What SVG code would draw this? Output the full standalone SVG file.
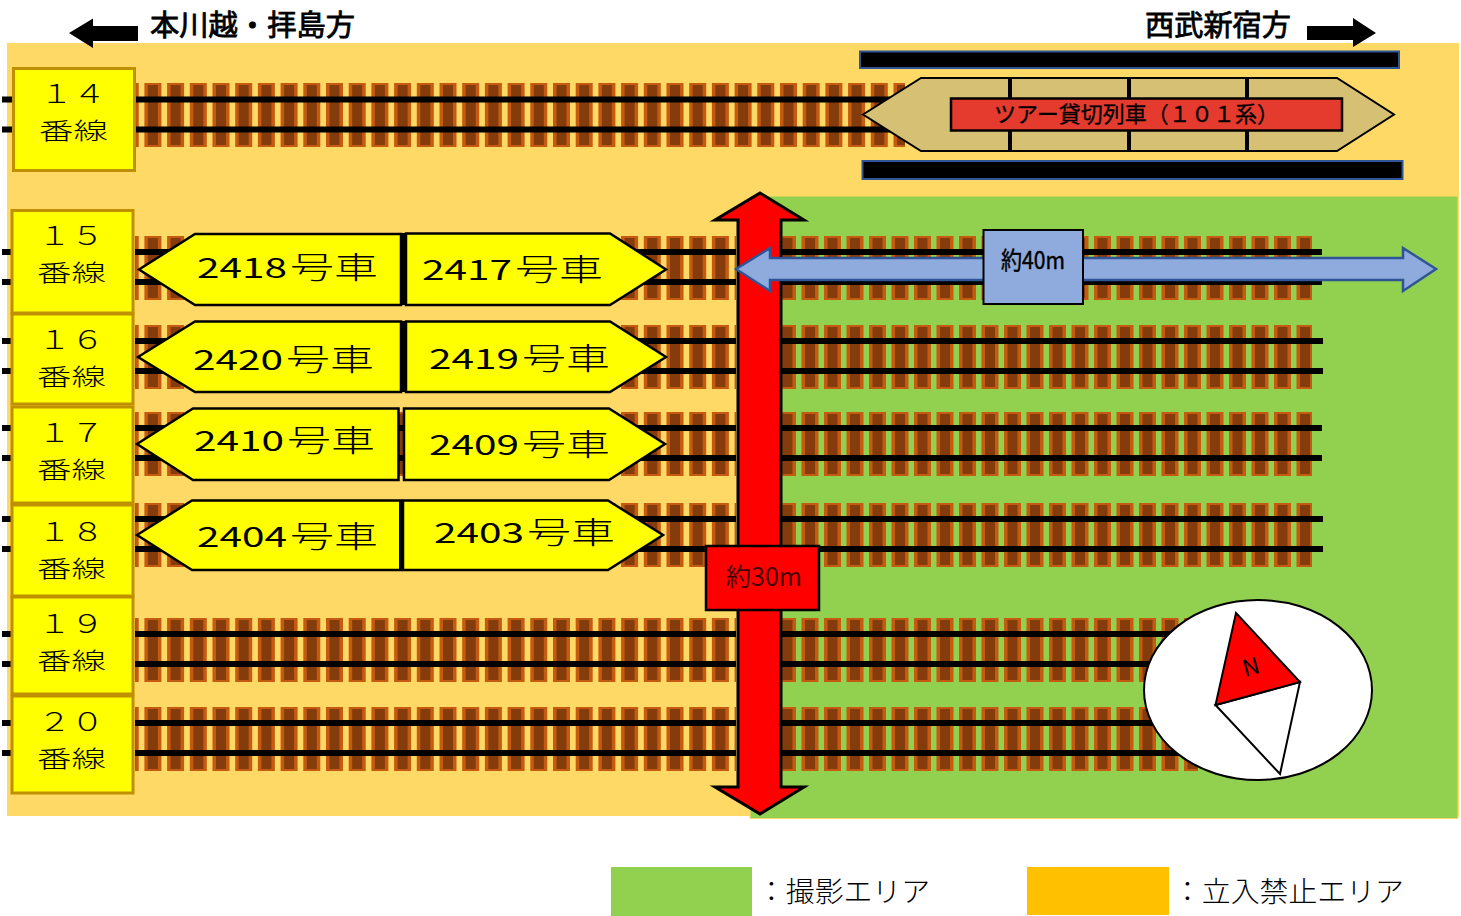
<svg xmlns="http://www.w3.org/2000/svg" width="1461" height="916" viewBox="0 0 1461 916">
<style>
text{font-family:"Noto Sans CJK JP","Noto Sans",sans-serif;fill:#000}
.tieL,.tieR{fill:none;stroke:#c55a11;stroke-width:64}
.inL,.inR{fill:none;stroke:#843c0c;stroke-width:60}
.tieL{stroke-dasharray:17 5.7;stroke-dashoffset:13.300}
.inL{stroke-dasharray:10 12.7;stroke-dashoffset:9.800}
.tieR{stroke-dasharray:17 5.5;stroke-dashoffset:3}
.inR{stroke-dasharray:10 12.500;stroke-dashoffset:22}
.rail{fill:none;stroke:#000;stroke-width:6}
.lab{fill:#ff0;stroke:#bf9000;stroke-width:3}
.num{font-size:26px;font-weight:300}
.sen{font-size:23px;font-weight:300}
.car{fill:#ff0;stroke:#000;stroke-width:2.5}
.cart{font-size:27px}
.kj{font-size:30px;font-weight:300}
.dir{font-size:29px;stroke:#000;stroke-width:.8}
.bar{fill:#000;stroke:#2f5597;stroke-width:2}
.sep{stroke:#000;stroke-width:4;fill:none}
.leg{font-size:28px;font-weight:300}
.dim{fill:#8faadc}
</style>
<g id="areas">
<rect x="7" y="43" width="1452" height="773" fill="#ffd966"/>
<rect x="750" y="196" width="708" height="622.500" fill="#92d050" stroke="#ffd966" stroke-width="1"/>
</g>
<g id="connectors">
<g id="track-14">
<path class="tieL" d="M135 115H905"/><path class="inL" d="M135 115H905"/>
<path class="rail" d="M2 99.500H13M135 99.500H905M2 129.500H13M135 129.500H905"/>
</g>
<g id="track-15">
<path class="tieL" d="M135 268H736"/><path class="inL" d="M135 268H736"/>
<path class="tieR" d="M782 268H1312"/><path class="inR" d="M782 268H1312"/>
<path class="rail" d="M2 252H12M135 252H736M782 252H1322M2 282H12M135 282H736M782 282H1322"/>
</g>
<g id="track-16">
<path class="tieL" d="M135 357H736"/><path class="inL" d="M135 357H736"/>
<path class="tieR" d="M782 357H1312"/><path class="inR" d="M782 357H1312"/>
<path class="rail" d="M2 341H12M135 341H736M782 341H1323M2 371H12M135 371H736M782 371H1323"/>
</g>
<g id="track-17">
<path class="tieL" d="M135 444H736"/><path class="inL" d="M135 444H736"/>
<path class="tieR" d="M782 444H1312"/><path class="inR" d="M782 444H1312"/>
<path class="rail" d="M2 428H12M135 428H736M782 428H1322M2 458H12M135 458H736M782 458H1322"/>
</g>
<g id="track-18">
<path class="tieL" d="M135 535H736"/><path class="inL" d="M135 535H736"/>
<path class="tieR" d="M782 535H1312"/><path class="inR" d="M782 535H1312"/>
<path class="rail" d="M2 519H12M135 519H736M782 519H1323M2 549H12M135 549H736M782 549H1323"/>
</g>
<g id="track-19">
<path class="tieL" d="M135 650H736"/><path class="inL" d="M135 650H736"/>
<path class="tieR" d="M782 650H1198"/><path class="inR" d="M782 650H1198"/>
<path class="rail" d="M2 634H12M135 634H736M782 634H1198M2 664H12M135 664H736M782 664H1198"/>
</g>
<g id="track-20">
<path class="tieL" d="M135 739H736"/><path class="inL" d="M135 739H736"/>
<path class="tieR" d="M782 739H1198"/><path class="inR" d="M782 739H1198"/>
<path class="rail" d="M2 723H12M135 723H736M782 723H1198M2 753H12M135 753H736M782 753H1198"/>
</g>
<path id="arrow-west" d="M69 33L93 18.500V26H138V41H93V48Z" fill="#000"/>
<path id="arrow-east" d="M1307 26H1353V18L1376 33L1353 47V40H1307Z" fill="#000"/>
<path id="arrow-30m" d="M760 193L804 220H781V787H804L760 814L715 787H738V220H715Z" fill="#f00" stroke="#000" stroke-width="3"/>
<path id="arrow-40m" d="M736 269L770 248V258H1403V248L1436 269L1403 291V280H770V291Z" fill="#8faadc" stroke="#2f5597" stroke-width="2.500"/>
</g>
<g id="platform-top"><rect class="bar" x="860" y="51.500" width="539" height="16.500"/></g>
<g id="platform-bottom"><rect class="bar" x="862.500" y="161" width="540" height="18"/></g>
<g id="train-101">
<path d="M863 114.500L921 78H1337L1394 114.500L1337 151H921Z" fill="#d6c074" stroke="#000" stroke-width="2"/>
<path class="sep" d="M1010 78V151M1129 78V151M1247 78V151"/>
<rect x="951" y="98.500" width="391" height="32" fill="#e53a2e" stroke="#000" stroke-width="2.500"/>
<text x="994" y="122" font-size="22" stroke="#000" stroke-width=".3" textLength="285" lengthAdjust="spacingAndGlyphs">ツアー貸切列車（１０１系）</text>
</g>
<g id="label-14"><rect class="lab" x="13.500" y="68.500" width="121" height="102"/><text class="num" x="40" y="103" textLength="66" lengthAdjust="spacingAndGlyphs">１４</text><text class="sen" x="39" y="139" textLength="69" lengthAdjust="spacingAndGlyphs">番線</text></g>
<g id="label-15"><rect class="lab" x="12" y="210.500" width="121" height="102.500"/><text class="num" x="38" y="245" textLength="66" lengthAdjust="spacingAndGlyphs">１５</text><text class="sen" x="37" y="281" textLength="69" lengthAdjust="spacingAndGlyphs">番線</text></g>
<g id="label-16"><rect class="lab" x="12" y="314" width="121" height="90"/><text class="num" x="38" y="349" textLength="66" lengthAdjust="spacingAndGlyphs">１６</text><text class="sen" x="37" y="385" textLength="69" lengthAdjust="spacingAndGlyphs">番線</text></g>
<g id="label-17"><rect class="lab" x="12" y="407" width="121" height="96"/><text class="num" x="38" y="442" textLength="66" lengthAdjust="spacingAndGlyphs">１７</text><text class="sen" x="37" y="478" textLength="69" lengthAdjust="spacingAndGlyphs">番線</text></g>
<g id="label-18"><rect class="lab" x="12" y="505" width="121" height="91"/><text class="num" x="38" y="541" textLength="66" lengthAdjust="spacingAndGlyphs">１８</text><text class="sen" x="37" y="577" textLength="69" lengthAdjust="spacingAndGlyphs">番線</text></g>
<g id="label-19"><rect class="lab" x="12" y="597" width="121" height="97"/><text class="num" x="38" y="633" textLength="66" lengthAdjust="spacingAndGlyphs">１９</text><text class="sen" x="37" y="669" textLength="69" lengthAdjust="spacingAndGlyphs">番線</text></g>
<g id="label-20"><rect class="lab" x="12" y="696" width="121" height="97"/><text class="num" x="38" y="731" textLength="66" lengthAdjust="spacingAndGlyphs">２０</text><text class="sen" x="37" y="767" textLength="69" lengthAdjust="spacingAndGlyphs">番線</text></g>
<g id="car-2418"><path class="car" d="M139 269.500L195 234H401V305H195Z"/><text class="cart" x="197" y="278"><tspan textLength="90" lengthAdjust="spacingAndGlyphs">2418</tspan><tspan class="kj" x="290" textLength="88" lengthAdjust="spacingAndGlyphs">号車</tspan></text></g>
<g id="car-2417"><path class="car" d="M406 233.500H610L666 269.500L610 305H406Z"/><text class="cart" x="422" y="280"><tspan textLength="90" lengthAdjust="spacingAndGlyphs">2417</tspan><tspan class="kj" x="515" textLength="88" lengthAdjust="spacingAndGlyphs">号車</tspan></text></g>
<g id="car-2420"><path class="car" d="M138 357L195 321.500H401V392H195Z"/><text class="cart" x="193" y="370"><tspan textLength="90" lengthAdjust="spacingAndGlyphs">2420</tspan><tspan class="kj" x="286" textLength="88" lengthAdjust="spacingAndGlyphs">号車</tspan></text></g>
<g id="car-2419"><path class="car" d="M406 321.500H610L666 357L610 392H406Z"/><text class="cart" x="429" y="369"><tspan textLength="90" lengthAdjust="spacingAndGlyphs">2419</tspan><tspan class="kj" x="522" textLength="88" lengthAdjust="spacingAndGlyphs">号車</tspan></text></g>
<g id="car-2410"><path class="car" d="M137 444L193 408.500H398.500V480H193Z"/><text class="cart" x="194" y="451"><tspan textLength="90" lengthAdjust="spacingAndGlyphs">2410</tspan><tspan class="kj" x="287" textLength="88" lengthAdjust="spacingAndGlyphs">号車</tspan></text></g>
<g id="car-2409"><path class="car" d="M404 408.500H609L665 444L609 480H404Z"/><text class="cart" x="429" y="455"><tspan textLength="90" lengthAdjust="spacingAndGlyphs">2409</tspan><tspan class="kj" x="522" textLength="88" lengthAdjust="spacingAndGlyphs">号車</tspan></text></g>
<g id="car-2404"><path class="car" d="M137 535L192 500.500H401V570H192Z"/><text class="cart" x="197" y="547"><tspan textLength="90" lengthAdjust="spacingAndGlyphs">2404</tspan><tspan class="kj" x="290" textLength="88" lengthAdjust="spacingAndGlyphs">号車</tspan></text></g>
<g id="car-2403"><path class="car" d="M403 500.500H608L663 535L608 570H403Z"/><text class="cart" x="434" y="543"><tspan textLength="90" lengthAdjust="spacingAndGlyphs">2403</tspan><tspan class="kj" x="527" textLength="88" lengthAdjust="spacingAndGlyphs">号車</tspan></text></g>
<path class="sep" d="M403.500 233V305M403.500 321V392M401 500V570"/>
<g id="dim-40m"><rect class="dim" x="983.500" y="230" width="99.500" height="74" stroke="#000" stroke-width="2"/><text x="1001" y="269" font-size="24" stroke="#000" stroke-width=".4" textLength="64" lengthAdjust="spacingAndGlyphs">約40m</text></g>
<g id="dim-30m"><rect x="706" y="546" width="113" height="64" fill="#f00" stroke="#000" stroke-width="2.500"/><text x="726" y="586" font-size="25" style="fill:#400" textLength="76" lengthAdjust="spacingAndGlyphs">約30m</text></g>
<g id="compass">
<ellipse cx="1258" cy="690" rx="114" ry="90" fill="#fff" stroke="#000" stroke-width="2"/>
<path d="M1215.500 705L1300 682L1280 774Z" fill="#fff" stroke="#000" stroke-width="2"/>
<path d="M1236 613L1300 682L1215.500 705Z" fill="#f00" stroke="#000" stroke-width="2"/>
<text x="1251" y="675" font-size="23" text-anchor="middle" transform="rotate(-15 1251 667)">N</text>
</g>
<g id="heading-west"><text class="dir" x="150" y="36" textLength="205" lengthAdjust="spacingAndGlyphs">本川越・拝島方</text></g>
<g id="heading-east"><text class="dir" x="1145" y="36" textLength="146" lengthAdjust="spacingAndGlyphs">西武新宿方</text></g>
<g id="legend-photo"><rect x="611" y="867" width="141" height="49" fill="#92d050"/><text class="leg" x="757" y="902" textLength="173" lengthAdjust="spacingAndGlyphs">：撮影エリア</text></g>
<g id="legend-noentry"><rect x="1027" y="867" width="142" height="48" fill="#ffc000"/><text class="leg" x="1173" y="902" textLength="231" lengthAdjust="spacingAndGlyphs">：立入禁止エリア</text></g>
</svg>
